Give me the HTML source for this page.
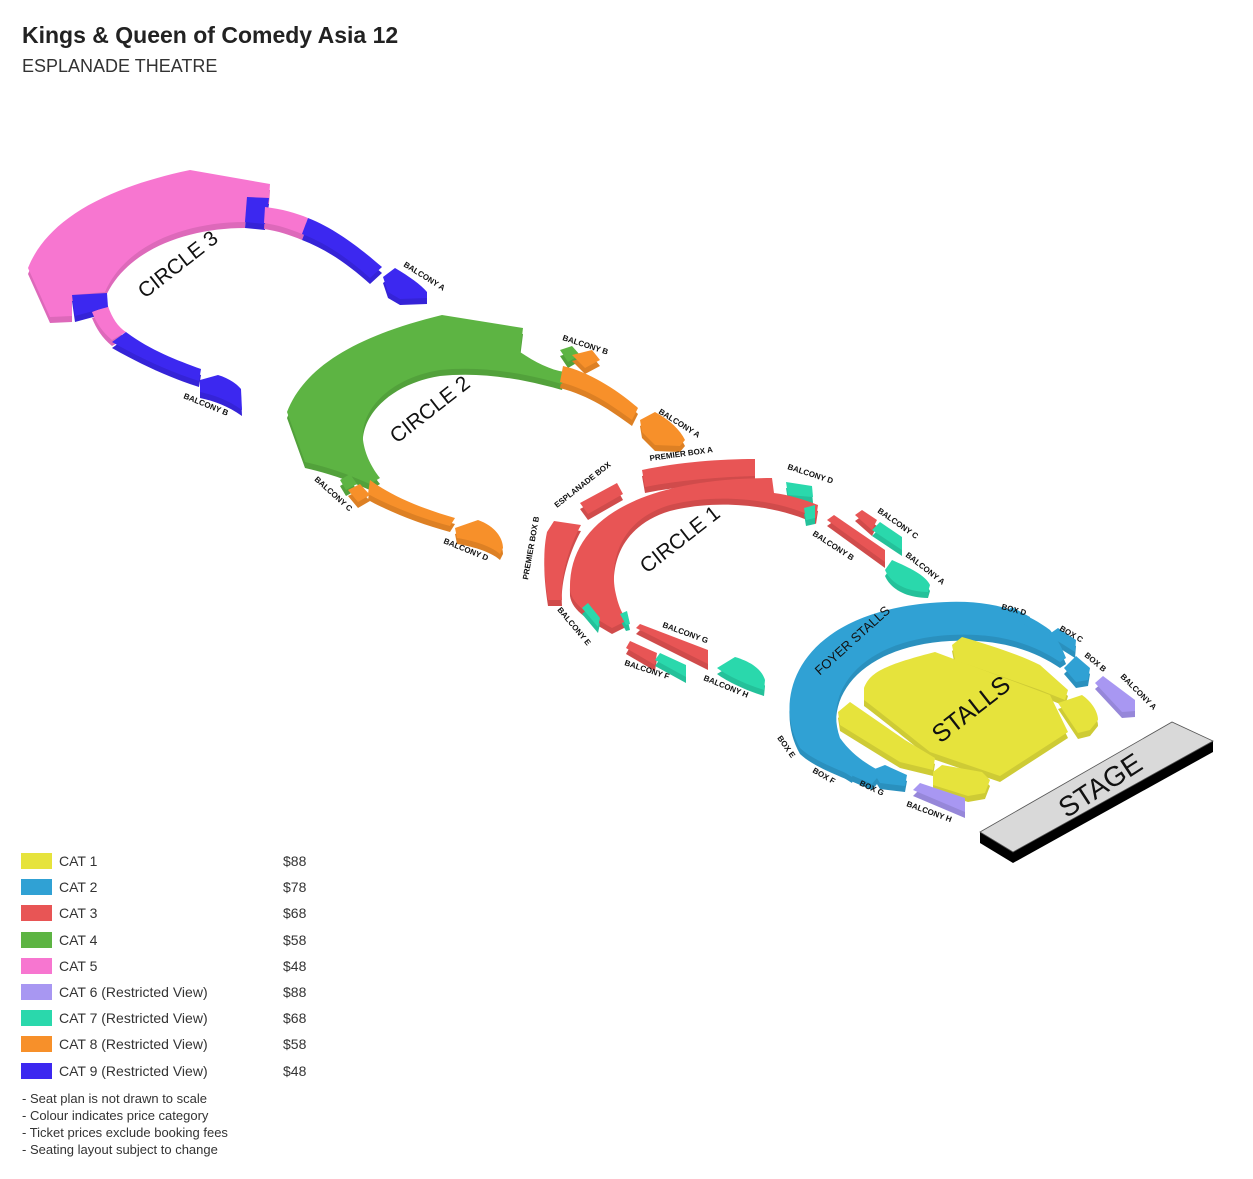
<!DOCTYPE html>
<html><head><meta charset="utf-8"><style>
body{margin:0;background:#fff;width:1253px;height:1179px;overflow:hidden;font-family:"Liberation Sans",sans-serif;}
svg{position:absolute;left:0;top:0}
</style></head><body>
<svg width="1253" height="1179" viewBox="0 0 1253 1179">
<defs>
<filter id="dk"><feColorMatrix type="matrix" values="0.78 0 0 0 0  0 0.78 0 0 0  0 0 0.78 0 0  0 0 0 1 0"/></filter>
<g id="c3">
 <path fill="#f776d0" d="M50,317 L28,268 C45,225 95,190 190,170 L270,184 L269,198 L247,197 L245,222 C185,222 125,245 105,292 L72,295 L72,316 Z"/>
 <path fill="#3c28f0" d="M247,197 L269,198 L265,224 L245,222 Z"/>
 <path fill="#f776d0" d="M265,207 C282,209 296,213 308,218 L302,234 C290,229 278,225 264,223 Z"/>
 <path fill="#3c28f0" d="M308,218 C338,230 362,250 382,267 L370,278 C350,260 328,244 302,234 Z"/>
 <path fill="#3c28f0" d="M383,277 L395,268 C410,277 420,284 427,292 L427,298 L400,299 L388,292 Z"/>
 <path fill="#f776d0" d="M92,312 L108,306 C112,318 118,327 126,332 L112,340 C102,332 96,322 92,312 Z"/>
 <path fill="#3c28f0" d="M72,295 L107,293 L108,307 L75,316 Z"/>
 <path fill="#3c28f0" d="M126,332 C150,350 176,360 201,369 L199,381 C170,372 140,358 112,342 Z"/>
 <path fill="#3c28f0" d="M200,380 L218,375 C228,378 236,383 241,389 L242,410 C228,400 214,395 200,392 Z"/>
</g>
<g id="c2">
 <path fill="#5db443" d="M305,462 L287,412 C305,365 360,335 442,315 L523,328 L520,352 C535,362 550,370 565,372 L562,384 C520,372 480,366 440,370 C390,378 360,410 363,440 C365,455 372,468 380,478 L370,484 C355,478 340,470 305,462 Z"/>
 <path fill="#f7902a" d="M563,366 C590,372 620,392 638,408 L632,420 C610,404 590,390 560,382 Z"/>
 <path fill="#f7902a" d="M640,420 L655,412 C670,420 680,430 685,440 L680,446 L655,445 L642,432 Z"/>
 <path fill="#5db443" d="M560,350 L572,346 L580,355 L568,362 Z"/>
 <path fill="#f7902a" d="M572,355 L592,350 L600,360 L585,368 Z"/>
 <path fill="#5db443" d="M340,480 L350,474 L357,484 L346,490 Z"/>
 <path fill="#f7902a" d="M348,490 L360,484 L370,495 L358,502 Z"/>
 <path fill="#f7902a" d="M370,480 C390,495 420,508 455,518 L450,526 C420,518 390,506 368,494 Z"/>
 <path fill="#f7902a" d="M455,528 L478,520 C495,526 503,538 503,548 L500,554 C490,545 470,540 457,538 Z"/>
</g>
<g id="c1">
 <path fill="#e85555" d="M570,590 C568,520 640,478 772,478 L774,493 C790,495 805,500 818,505 L816,518 C780,500 720,492 670,505 C620,520 610,560 615,590 C618,605 622,615 628,620 L612,628 C590,615 572,605 570,590 Z"/>
 <path fill="#e85555" d="M547,532 L554,521 L581,525 C570,545 560,575 562,600 L548,600 C545,580 542,555 547,532 Z"/>
 <path fill="#e85555" d="M580,503 L617,483 L623,494 L588,514 Z"/>
 <path fill="#e85555" d="M642,470 C680,462 720,459 755,459 L755,476 C720,477 680,480 645,487 Z"/>
 <path fill="#2ad8ac" d="M786,482 L812,486 L813,497 L788,495 Z"/>
 <path fill="#2ad8ac" d="M804,508 L815,505 L815,518 L806,520 Z"/>
 <path fill="#e85555" d="M827,520 L834,515 L885,550 L885,562 Z"/>
 <path fill="#e85555" d="M855,515 L862,510 L877,520 L872,530 Z"/>
 <path fill="#2ad8ac" d="M872,530 L880,522 L902,537 L902,550 Z"/>
 <path fill="#2ad8ac" d="M885,570 L892,560 C910,568 925,575 930,585 L928,592 C905,592 890,582 885,570 Z"/>
 <path fill="#2ad8ac" d="M582,608 L588,603 L600,618 L598,627 Z"/>
 <path fill="#2ad8ac" d="M620,614 L627,611 L630,624 L626,625 Z"/>
 <path fill="#e85555" d="M636,628 L640,624 L708,650 L708,664 Z"/>
 <path fill="#e85555" d="M626,648 L630,641 L657,653 L655,665 Z"/>
 <path fill="#2ad8ac" d="M655,660 L660,653 L686,665 L686,677 Z"/>
 <path fill="#2ad8ac" d="M717,668 L735,657 C752,662 762,670 765,680 L764,690 C745,684 728,676 717,668 Z"/>
</g>
<g id="st">
 <path fill="#30a1d4" d="M800,748 C772,700 795,615 930,603 C985,598 1020,608 1050,630 C1058,640 1062,648 1066,658 L1060,662 C1035,645 1000,632 950,635 C862,640 823,690 840,738 C852,755 868,765 882,772 L872,784 C840,770 815,762 800,748 Z"/>
 <path fill="#30a1d4" d="M1005,612 L1012,607 L1030,617 L1030,628 Z"/>
 <path fill="#30a1d4" d="M1048,635 L1058,628 L1076,640 L1075,652 Z"/>
 <path fill="#30a1d4" d="M1064,668 L1076,656 L1090,668 L1088,680 L1076,682 Z"/>
 <path fill="#30a1d4" d="M796,738 L803,730 L813,746 L810,752 Z"/>
 <path fill="#30a1d4" d="M828,762 L838,755 L855,768 L852,777 Z"/>
 <path fill="#30a1d4" d="M872,770 L885,765 L907,775 L905,786 L880,783 Z"/>
 <path fill="#e6e33c" d="M864,688 C870,672 885,665 935,652 L1050,695 L1068,732 L1000,776 L930,752 C900,728 880,712 864,700 Z"/>
 <path fill="#e6e33c" d="M952,645 L962,637 C990,645 1020,655 1040,665 L1068,690 L1065,700 L1040,690 L955,660 Z"/>
 <path fill="#e6e33c" d="M1058,703 L1082,695 C1092,702 1098,712 1098,720 L1090,730 L1078,733 Z"/>
 <path fill="#e6e33c" d="M838,712 L850,702 L905,740 L935,758 L933,770 L900,762 L840,725 Z"/>
 <path fill="#e6e33c" d="M933,772 L942,765 L982,772 L990,780 L985,793 L968,796 L933,785 Z"/>
 <path fill="#a897f2" d="M1095,683 L1103,676 L1135,700 L1135,711 L1122,712 Z"/>
 <path fill="#a897f2" d="M913,790 L920,783 L965,798 L965,812 Z"/>
</g>
</defs>
<use href="#c3" transform="translate(0,6)" filter="url(#dk)"/><use href="#c3"/>
<use href="#c2" transform="translate(0,6)" filter="url(#dk)"/><use href="#c2"/>
<use href="#c1" transform="translate(0,6)" filter="url(#dk)"/><use href="#c1"/>
<use href="#st" transform="translate(0,6)" filter="url(#dk)"/><use href="#st"/>
<path fill="#000" d="M980,832 L980,843 L1013,863 L1213,752 L1213,741 Z"/>
<path fill="#d9d9d9" stroke="#555" stroke-width="0.8" d="M980,832 L1172,722 L1213,741 L1013,852 Z"/>
<g font-family="Liberation Sans, sans-serif" fill="#111">
<text x="176" y="272" font-size="21" transform="rotate(-38 176 262)" text-anchor="middle">CIRCLE 3</text>
<text x="428" y="417" font-size="21" transform="rotate(-38 428 407)" text-anchor="middle">CIRCLE 2</text>
<text x="678" y="547" font-size="21" transform="rotate(-38 678 537)" text-anchor="middle">CIRCLE 1</text>
<text x="970" y="718" font-size="25" transform="rotate(-38 970 708)" text-anchor="middle">STALLS</text>
<text x="1100" y="795" font-size="28" transform="rotate(-33 1100 785)" text-anchor="middle">STAGE</text>
<text x="852" y="645" font-size="13" transform="rotate(-42 852 640)" text-anchor="middle">FOYER STALLS</text>
<g font-size="8" font-weight="bold">
<text x="403" y="266" transform="rotate(32 403 266)">BALCONY A</text>
<text x="183" y="398" transform="rotate(22 183 398)">BALCONY B</text>
<text x="562" y="340" transform="rotate(18 562 340)">BALCONY B</text>
<text x="658" y="413" transform="rotate(32 658 413)">BALCONY A</text>
<text x="314" y="480" transform="rotate(42 314 480)">BALCONY C</text>
<text x="443" y="543" transform="rotate(22 443 543)">BALCONY D</text>
<text x="650" y="461" transform="rotate(-8 650 461)">PREMIER BOX A</text>
<text x="557" y="508" transform="rotate(-38 557 508)">ESPLANADE BOX</text>
<text x="528" y="580" transform="rotate(-80 528 580)">PREMIER BOX B</text>
<text x="787" y="469" transform="rotate(18 787 469)">BALCONY D</text>
<text x="877" y="512" transform="rotate(35 877 512)">BALCONY C</text>
<text x="812" y="535" transform="rotate(33 812 535)">BALCONY B</text>
<text x="905" y="556" transform="rotate(38 905 556)">BALCONY A</text>
<text x="557" y="610" transform="rotate(50 557 610)">BALCONY E</text>
<text x="662" y="627" transform="rotate(20 662 627)">BALCONY G</text>
<text x="624" y="665" transform="rotate(18 624 665)">BALCONY F</text>
<text x="703" y="680" transform="rotate(22 703 680)">BALCONY H</text>
<text x="1001" y="609" transform="rotate(15 1001 609)">BOX D</text>
<text x="1059" y="630" transform="rotate(30 1059 630)">BOX C</text>
<text x="1084" y="656" transform="rotate(40 1084 656)">BOX B</text>
<text x="1120" y="677" transform="rotate(45 1120 677)">BALCONY A</text>
<text x="777" y="738" transform="rotate(55 777 738)">BOX E</text>
<text x="812" y="772" transform="rotate(30 812 772)">BOX F</text>
<text x="859" y="785" transform="rotate(25 859 785)">BOX G</text>
<text x="906" y="806" transform="rotate(20 906 806)">BALCONY  H</text>
</g>
</g>
</svg>
<div style="position:absolute;left:22px;top:22px;font-size:23px;font-weight:bold;color:#222">Kings &amp; Queen of Comedy Asia 12</div>
<div style="position:absolute;left:22px;top:56px;font-size:18px;color:#333">ESPLANADE THEATRE</div>
<div style="position:absolute;left:21px;top:848px;font-size:14px;color:#333;line-height:26.2px">
<div style="position:relative;height:26.2px"><span style="display:inline-block;width:31px;height:16px;background:#e6e33c;vertical-align:-3px;margin-right:7px"></span>CAT 1<span style="position:absolute;left:262px">$88</span></div>
<div style="position:relative;height:26.2px"><span style="display:inline-block;width:31px;height:16px;background:#30a1d4;vertical-align:-3px;margin-right:7px"></span>CAT 2<span style="position:absolute;left:262px">$78</span></div>
<div style="position:relative;height:26.2px"><span style="display:inline-block;width:31px;height:16px;background:#e85555;vertical-align:-3px;margin-right:7px"></span>CAT 3<span style="position:absolute;left:262px">$68</span></div>
<div style="position:relative;height:26.2px"><span style="display:inline-block;width:31px;height:16px;background:#5db443;vertical-align:-3px;margin-right:7px"></span>CAT 4<span style="position:absolute;left:262px">$58</span></div>
<div style="position:relative;height:26.2px"><span style="display:inline-block;width:31px;height:16px;background:#f776d0;vertical-align:-3px;margin-right:7px"></span>CAT 5<span style="position:absolute;left:262px">$48</span></div>
<div style="position:relative;height:26.2px"><span style="display:inline-block;width:31px;height:16px;background:#a897f2;vertical-align:-3px;margin-right:7px"></span>CAT 6 (Restricted View)<span style="position:absolute;left:262px">$88</span></div>
<div style="position:relative;height:26.2px"><span style="display:inline-block;width:31px;height:16px;background:#2ad8ac;vertical-align:-3px;margin-right:7px"></span>CAT 7 (Restricted View)<span style="position:absolute;left:262px">$68</span></div>
<div style="position:relative;height:26.2px"><span style="display:inline-block;width:31px;height:16px;background:#f7902a;vertical-align:-3px;margin-right:7px"></span>CAT 8 (Restricted View)<span style="position:absolute;left:262px">$58</span></div>
<div style="position:relative;height:26.2px"><span style="display:inline-block;width:31px;height:16px;background:#3c28f0;vertical-align:-3px;margin-right:7px"></span>CAT 9 (Restricted View)<span style="position:absolute;left:262px">$48</span></div>
</div>
<div style="position:absolute;left:22px;top:1090px;font-size:13px;color:#333;line-height:17px">- Seat plan is not drawn to scale<br>- Colour indicates price category<br>- Ticket prices exclude booking fees<br>- Seating layout subject to change</div>
</body></html>
